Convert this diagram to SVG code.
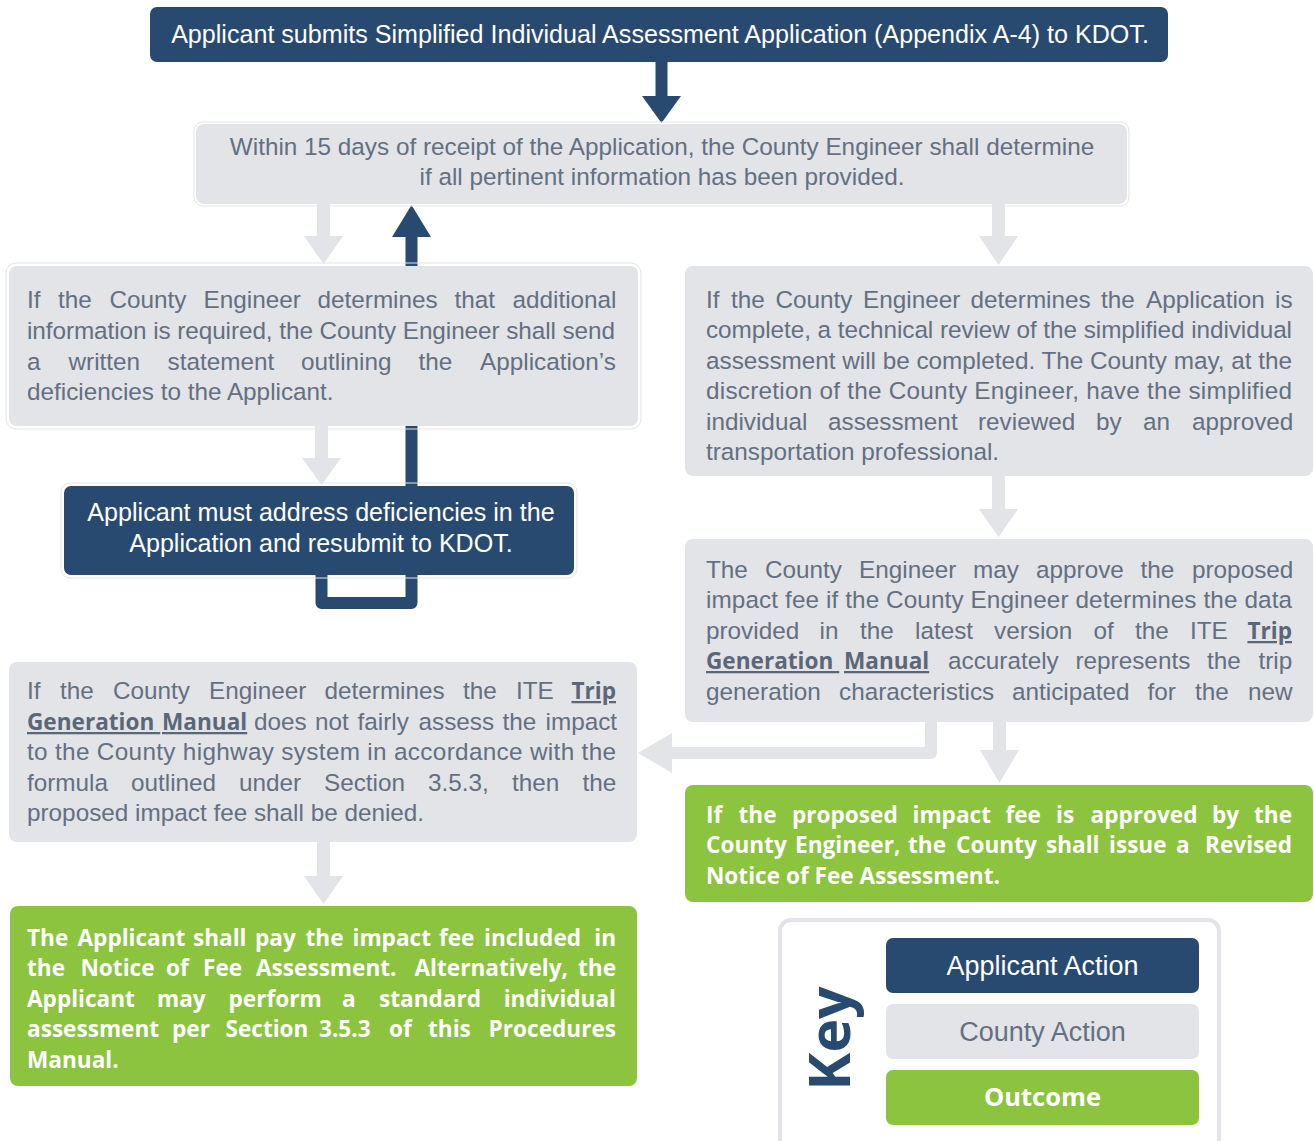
<svg xmlns="http://www.w3.org/2000/svg" width="1314" height="1141" viewBox="0 0 1314 1141">
<defs>
<style>
.navy{fill:#294a70}
.gray{fill:#e2e4e7}
.green{fill:#8cc43f}
.halo{fill:none;stroke:#e4e5e8;stroke-width:1}
.t{font-family:"Liberation Sans",Arial,Helvetica,sans-serif;font-size:24.3px;fill:#647081}
.w{font-family:"Liberation Sans",Arial,Helvetica,sans-serif;font-size:25.1px;fill:#ffffff}
.g{font-family:"Open Sans","DejaVu Sans",sans-serif;font-weight:700;font-size:22.6px;fill:#ffffff}
.b{font-family:"Open Sans","DejaVu Sans",sans-serif;font-weight:700;font-size:22.6px;fill:#5b6779}
.u{text-decoration:underline}
.e{text-anchor:end}
.ga{fill:#e2e4e7}
.na{fill:#294a70}
</style>
</defs>
<rect width="1314" height="1141" fill="#ffffff"/>

<g id="connectors">
  <rect class="na" x="655.5" y="60" width="12" height="38"/>
  <polygon class="na" points="642,96 681,96 661.5,123"/>
  <rect class="ga" x="317" y="200" width="13" height="38"/>
  <polygon class="ga" points="304,236 343,236 323.5,264"/>
  <path d="M321.5,570 V603 H411.5 V234" fill="none" stroke="#294a70" stroke-width="12" stroke-linejoin="round"/>
  <polygon class="na" points="392,237 431,237 411.5,205"/>
  <rect class="ga" x="315" y="424" width="13" height="36"/>
  <polygon class="ga" points="302,458 341,458 321.5,485"/>
  <rect class="ga" x="992" y="200" width="13" height="38"/>
  <polygon class="ga" points="979,236 1018,236 998.5,265"/>
  <rect class="ga" x="992" y="472" width="13" height="39"/>
  <polygon class="ga" points="979,509 1018,509 998.5,537"/>
  <path d="M931,718 V753 H668" fill="none" stroke="#e2e4e7" stroke-width="12" stroke-linejoin="round"/>
  <polygon class="ga" points="672,733 672,773 638,753"/>
  <rect class="ga" x="993" y="718" width="13" height="34"/>
  <polygon class="ga" points="980,750 1019,750 999.5,783"/>
  <rect class="ga" x="317" y="838" width="13" height="40"/>
  <polygon class="ga" points="304,876 343,876 323.5,904"/>
</g>

<g id="n1">
  <rect class="navy" x="150" y="7" width="1018" height="55" rx="7"/>
  <text class="w" x="660" y="43" text-anchor="middle">Applicant submits Simplified Individual Assessment Application (Appendix A-4) to KDOT.</text>
</g>

<g id="n2">
  <rect class="halo" x="194" y="122" width="935" height="84" rx="9"/>
  <rect class="gray" x="196" y="124" width="931" height="80" rx="8"/>
  <text class="t" x="662" y="155" text-anchor="middle">Within 15 days of receipt of the Application, the County Engineer shall determine</text>
  <text class="t" x="662" y="185" text-anchor="middle">if all pertinent information has been provided.</text>
</g>

<g id="n3">
  <rect class="halo" x="6" y="263" width="635" height="166" rx="10"/>
  <rect class="gray" x="9" y="266" width="629" height="160" rx="8"/>
  <text class="t" y="308"><tspan x="27">If</tspan><tspan x="58">the</tspan><tspan x="109.5">County</tspan><tspan x="203.5">Engineer</tspan><tspan x="317.5">determines</tspan><tspan x="454.5">that</tspan><tspan x="512.5">additional</tspan></text>
  <text class="t" x="27" y="339" textLength="588" lengthAdjust="spacing">information is required, the County Engineer shall send</text>
  <text class="t" y="370"><tspan x="27">a</tspan><tspan x="68.5">written</tspan><tspan x="167.5">statement</tspan><tspan x="301">outlining</tspan><tspan x="418.5">the</tspan><tspan x="480">Application’s</tspan></text>
  <text class="t" x="27" y="400">deficiencies to the Applicant.</text>
</g>

<g id="n4">
  <rect class="halo" x="61" y="483" width="516" height="95" rx="9"/>
  <rect class="navy" x="64" y="486" width="510" height="89" rx="7"/>
  <text class="w" x="321" y="521" text-anchor="middle">Applicant must address deficiencies in the</text>
  <text class="w" x="321" y="552" text-anchor="middle">Application and resubmit to KDOT.</text>
</g>

<g id="n5">
  <rect class="gray" x="685" y="266" width="628" height="210" rx="8"/>
  <text class="t" y="308"><tspan x="706">If</tspan><tspan x="731">the</tspan><tspan x="775.5">County</tspan><tspan x="863">Engineer</tspan><tspan x="970.5">determines</tspan><tspan x="1101">the</tspan><tspan x="1146">Application</tspan><tspan x="1275">is</tspan></text>
  <text class="t" x="706" y="338" textLength="586" lengthAdjust="spacing">complete, a technical review of the simplified individual</text>
  <text class="t" x="706" y="369" textLength="586" lengthAdjust="spacing">assessment will be completed. The County may, at the</text>
  <text class="t" x="706" y="399" textLength="586" lengthAdjust="spacing">discretion of the County Engineer, have the simplified</text>
  <text class="t" y="430"><tspan x="706">individual</tspan><tspan x="828">assessment</tspan><tspan x="978">reviewed</tspan><tspan x="1096">by</tspan><tspan x="1143">an</tspan><tspan x="1192">approved</tspan></text>
  <text class="t" x="706" y="460">transportation professional.</text>
</g>

<g id="n6">
  <rect class="gray" x="685" y="539" width="628" height="183" rx="8"/>
  <text class="t" y="578"><tspan x="706">The</tspan><tspan x="765">County</tspan><tspan x="859">Engineer</tspan><tspan x="973">may</tspan><tspan x="1036">approve</tspan><tspan x="1140.5">the</tspan><tspan x="1192">proposed</tspan></text>
  <text class="t" x="706" y="608" textLength="586" lengthAdjust="spacing">impact fee if the County Engineer determines the data</text>
  <text class="t" y="639"><tspan x="706">provided</tspan><tspan x="819.5">in</tspan><tspan x="860">the</tspan><tspan x="915">latest</tspan><tspan x="994">version</tspan><tspan x="1093.5">of</tspan><tspan x="1135">the</tspan><tspan x="1190">ITE</tspan></text>
  <text class="b u e" x="1292" y="639">Trip</text>
  <text class="t" y="669"><tspan x="706" class="b u">Generation </tspan><tspan x="844" class="b u">Manual</tspan><tspan x="948">accurately</tspan><tspan x="1075.5">represents</tspan><tspan x="1207">the</tspan><tspan x="1258.5">trip</tspan></text>
  <text class="t" y="700"><tspan x="706">generation</tspan><tspan x="839">characteristics</tspan><tspan x="1012">anticipated</tspan><tspan x="1147.5">for</tspan><tspan x="1195">the</tspan><tspan x="1248">new</tspan></text>
</g>

<g id="n7">
  <rect class="green" x="685" y="785" width="628" height="117" rx="8"/>
  <text class="g" y="823"><tspan x="706">If</tspan><tspan x="738.5">the</tspan><tspan x="792">proposed</tspan><tspan x="912.5">impact</tspan><tspan x="1005.5">fee</tspan><tspan x="1056">is</tspan><tspan x="1090.5">approved</tspan><tspan x="1212">by</tspan></text>
  <text class="g e" x="1292" y="823">the</text>
  <text class="g" y="853"><tspan x="706">County</tspan><tspan x="795">Engineer,</tspan><tspan x="908">the</tspan><tspan x="956">County</tspan><tspan x="1046">shall</tspan><tspan x="1109">issue</tspan><tspan x="1176">a</tspan></text>
  <text class="g e" x="1292" y="853">Revised</text>
  <text class="g" x="706" y="884">Notice of Fee Assessment.</text>
</g>

<g id="n8">
  <rect class="gray" x="9" y="662" width="628" height="180" rx="8"/>
  <text class="t" y="699"><tspan x="27">If</tspan><tspan x="60">the</tspan><tspan x="113">County</tspan><tspan x="209">Engineer</tspan><tspan x="324.5">determines</tspan><tspan x="463">the</tspan><tspan x="516">ITE</tspan></text>
  <text class="b u e" x="616" y="699">Trip</text>
  <text class="t" y="730"><tspan x="27" class="b u">Generation </tspan><tspan x="162" class="b u">Manual</tspan><tspan x="254">does</tspan><tspan x="315">not</tspan><tspan x="357.5">fairly</tspan><tspan x="418.5">assess</tspan><tspan x="502.5">the</tspan><tspan x="545.5">impact</tspan></text>
  <text class="t" x="27" y="760" textLength="589" lengthAdjust="spacing">to the County highway system in accordance with the</text>
  <text class="t" y="791"><tspan x="27">formula</tspan><tspan x="131">outlined</tspan><tspan x="239">under</tspan><tspan x="324">Section</tspan><tspan x="428">3.5.3,</tspan><tspan x="512">then</tspan><tspan x="582.5">the</tspan></text>
  <text class="t" x="27" y="821">proposed impact fee shall be denied.</text>
</g>

<g id="n9">
  <rect class="green" x="10" y="906" width="627" height="180" rx="8"/>
  <text class="g" y="946"><tspan x="27">The</tspan><tspan x="77.5">Applicant</tspan><tspan x="193">shall</tspan><tspan x="255">pay</tspan><tspan x="305.5">the</tspan><tspan x="352.5">impact</tspan><tspan x="439">fee</tspan><tspan x="484">included</tspan></text>
  <text class="g e" x="616" y="946">in</text>
  <text class="g" y="976"><tspan x="27">the</tspan><tspan x="80.5">Notice</tspan><tspan x="166">of</tspan><tspan x="203">Fee</tspan><tspan x="256">Assessment.</tspan><tspan x="414.5">Alternatively,</tspan></text>
  <text class="g e" x="616" y="976">the</text>
  <text class="g" y="1007"><tspan x="27">Applicant</tspan><tspan x="157">may</tspan><tspan x="228.5">perform</tspan><tspan x="342">a</tspan><tspan x="379">standard</tspan></text>
  <text class="g e" x="616" y="1007">individual</text>
  <text class="g" y="1037"><tspan x="27">assessment</tspan><tspan x="172">per</tspan><tspan x="225.5">Section</tspan><tspan x="319">3.5.3</tspan><tspan x="389">of</tspan><tspan x="428">this</tspan></text>
  <text class="g e" x="616" y="1037">Procedures</text>
  <text class="g" x="27" y="1068">Manual.</text>
</g>

<g id="key">
  <rect x="780" y="920" width="439" height="240" rx="11" fill="#ffffff" stroke="#e2e4e7" stroke-width="4"/>
  <text transform="translate(850,1038.5) rotate(-90)" text-anchor="middle" font-family="'Open Sans','DejaVu Sans',sans-serif" font-weight="700" font-size="57" fill="#294a70">Key</text>
  <g id="key-applicant">
    <rect class="navy" x="886" y="938" width="313" height="55" rx="7"/>
    <text class="w" x="1042.5" y="975" text-anchor="middle" style="font-size:27px">Applicant Action</text>
  </g>
  <g id="key-county">
    <rect class="gray" x="886" y="1004" width="313" height="55" rx="7"/>
    <text class="t" x="1042.5" y="1041" text-anchor="middle" style="font-size:27px">County Action</text>
  </g>
  <g id="key-outcome">
    <rect class="green" x="886" y="1070" width="313" height="55" rx="7"/>
    <text class="g" x="1042.5" y="1106" text-anchor="middle" style="font-size:25.5px">Outcome</text>
  </g>
</g>
</svg>
